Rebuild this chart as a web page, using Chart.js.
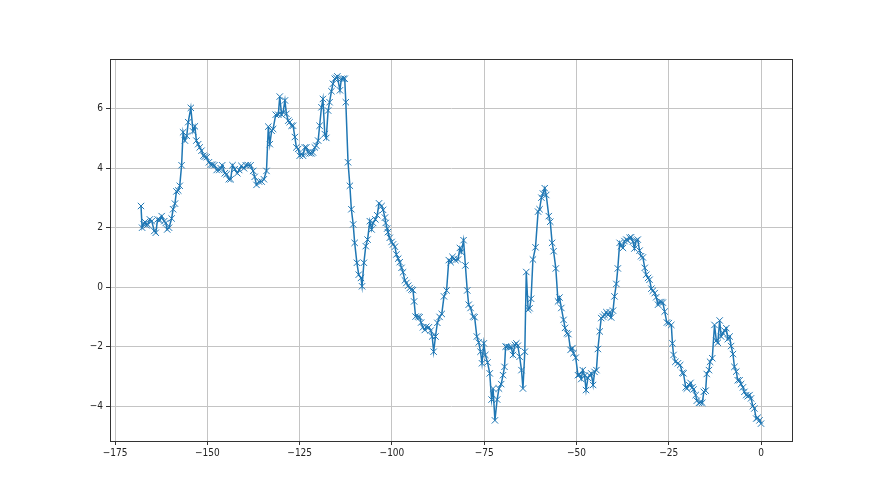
<!DOCTYPE html>
<html>
<head>
<meta charset="utf-8">
<script src="https://cdn.jsdelivr.net/npm/chart.js@4.4.1/dist/chart.umd.min.js"></script>
<style>
  html, body { margin: 0; padding: 0; background: #fff; }
  canvas { display: block; }
</style>
</head>
<body>
<canvas id="grafico" width="880" height="495"></canvas>
<script>
// x positions (days) and values
var days = [
  -168.0, -167.7, -167.3, -166.9, -166.5, -166.2, -165.6, -165.1, -164.4, -164.0,
  -163.5, -162.9, -162.4, -161.7, -161.3, -160.9, -160.4, -159.7, -159.3, -158.8,
  -158.4, -157.9, -157.5, -157.0, -156.6, -156.1, -155.6, -155.2, -154.5, -153.9,
  -153.4, -153.0, -152.5, -152.1, -151.6, -151.1, -150.7, -150.2, -149.6, -149.1,
  -148.6, -148.1, -147.5, -146.8, -146.4, -146.0, -145.3, -144.8, -144.2, -143.7,
  -143.2, -142.6, -141.9, -141.4, -140.8, -140.1, -139.6, -139.0, -138.3, -137.6,
  -137.2, -136.7, -136.0, -135.3, -134.7, -134.0, -133.5, -133.1, -132.6, -132.2,
  -131.5, -130.8, -130.4, -129.9, -129.5, -129.0, -128.6, -128.1, -127.7, -127.2,
  -126.8, -126.3, -125.9, -125.4, -125.0, -124.5, -124.1, -123.6, -123.2, -122.7,
  -122.3, -121.8, -121.4, -120.9, -120.5, -120.0, -119.6, -119.1, -118.7, -118.2,
  -117.8, -117.3, -116.9, -116.4, -116.0, -115.5, -115.1, -114.8, -114.1, -113.7,
  -113.2, -112.8, -112.5, -111.9, -111.4, -111.0, -110.5, -110.1, -109.5, -109.0,
  -108.4, -108.1, -107.6, -107.1, -106.6, -106.0, -105.5, -105.1, -104.5, -104.0,
  -103.5, -102.8, -102.4, -101.9, -101.7, -101.3, -101.1, -100.6, -100.1, -99.7,
  -99.2, -98.8, -98.3, -97.9, -97.4, -97.0, -96.5, -96.1, -95.6, -95.2,
  -94.7, -94.3, -94.0, -93.6, -92.9, -92.5, -92.1, -91.6, -91.1, -90.7,
  -90.0, -89.5, -89.1, -88.7, -88.2, -87.7, -87.1, -86.5, -85.9, -85.2,
  -84.6, -84.1, -83.6, -83.2, -82.8, -82.1, -81.6, -81.2, -80.6, -80.1,
  -79.6, -79.2, -78.7, -78.0, -77.6, -77.0, -76.5, -76.0, -75.6, -75.1,
  -74.7, -74.1, -73.5, -73.0, -72.6, -72.1, -71.5, -71.0, -70.4, -69.9,
  -69.5, -69.2, -68.8, -68.2, -67.7, -67.2, -66.7, -66.3, -65.9, -65.4,
  -64.9, -64.5, -64.0, -63.6, -63.1, -62.7, -62.3, -61.8, -61.1, -60.4,
  -60.0, -59.5, -59.1, -58.6, -58.2, -57.5, -57.1, -56.6, -56.2, -55.6,
  -55.0, -54.6, -54.1, -53.5, -53.1, -52.6, -52.2, -51.6, -51.1, -50.8,
  -50.2, -49.6, -49.2, -48.7, -48.3, -47.8, -47.4, -46.9, -46.4, -46.0,
  -45.5, -45.1, -44.6, -44.2, -43.7, -43.3, -42.8, -42.4, -41.9, -41.5,
  -41.0, -40.6, -40.1, -39.7, -39.2, -38.8, -38.3, -37.9, -37.4, -37.0,
  -36.5, -36.1, -35.6, -35.2, -34.7, -34.3, -33.8, -33.4, -32.9, -32.5,
  -32.0, -31.5, -31.1, -30.6, -30.2, -29.7, -29.3, -28.8, -28.4, -27.9,
  -27.5, -27.0, -26.6, -26.1, -25.5, -25.0, -24.3, -24.0, -23.7, -23.2,
  -22.5, -21.9, -21.3, -21.0, -20.4, -20.1, -19.5, -19.1, -18.6, -18.3,
  -17.7, -17.4, -16.8, -16.4, -15.9, -15.5, -15.0, -14.7, -14.1, -13.8,
  -13.2, -12.6, -12.1, -11.7, -11.2, -10.8, -10.3, -9.9, -9.4, -9.0,
  -8.5, -8.1, -7.6, -7.2, -6.7, -6.3, -5.8, -5.4, -4.9, -4.5,
  -4.0, -3.6, -3.1, -2.7, -2.2, -1.8, -1.3, -0.9, -0.4, 0.0
];

var values = [
  2.73, 2.00, 2.12, 2.19, 2.08, 2.11, 2.28, 2.22, 1.89, 1.83,
  2.28, 2.25, 2.39, 2.22, 2.16, 1.94, 2.00, 2.31, 2.62, 2.81,
  3.22, 3.25, 3.41, 4.10, 5.21, 4.93, 5.09, 5.55, 6.03, 5.24,
  5.41, 4.93, 4.81, 4.70, 4.59, 4.42, 4.39, 4.37, 4.20, 4.12,
  4.12, 4.10, 3.94, 3.94, 4.00, 4.10, 3.83, 3.80, 3.63, 3.63,
  4.10, 3.97, 3.83, 3.94, 4.08, 4.00, 4.10, 4.10, 4.10, 3.91,
  3.71, 3.44, 3.55, 3.55, 3.63, 3.91, 5.40, 4.81, 5.26, 5.32,
  5.80, 5.80, 6.41, 5.80, 5.88, 6.28, 5.83, 5.60, 5.55, 5.43,
  5.43, 5.05, 4.70, 4.65, 4.42, 4.48, 4.42, 4.70, 4.70, 4.53,
  4.50, 4.50, 4.53, 4.70, 4.76, 4.93, 5.43, 6.05, 6.33, 5.15,
  5.02, 5.94, 6.22, 6.59, 6.84, 7.01, 7.04, 7.09, 6.62, 7.01,
  7.01, 7.01, 6.22, 4.20, 3.41, 2.62, 2.11, 1.49, 0.82, 0.42,
  0.31, 0.03, 0.82, 1.38, 1.60, 2.22, 1.94, 2.16, 2.28, 2.42,
  2.82, 2.73, 2.60, 2.34, 2.16, 1.97, 1.85, 1.66, 1.52, 1.44,
  1.36, 1.10, 0.96, 0.84, 0.65, 0.50, 0.23, 0.14, 0.05, -0.03,
  -0.08, -0.10, -0.48, -0.99, -0.99, -1.01, -1.19, -1.35, -1.44, -1.33,
  -1.35, -1.46, -1.66, -2.17, -1.66, -1.20, -1.00, -0.90, -0.31, -0.11,
  0.91, 0.84, 1.02, 0.95, 0.91, 0.93, 1.32, 1.18, 1.58, 0.73,
  -0.11, -0.59, -0.70, -0.99, -1.01, -1.66, -1.86, -2.17, -2.56, -1.89,
  -2.28, -2.53, -2.90, -3.78, -3.41, -4.48, -3.78, -3.41, -3.26, -2.96,
  -2.68, -2.00, -2.00, -2.02, -2.02, -2.28, -1.94, -1.89, -1.97, -2.34,
  -2.79, -3.41, -2.17, 0.51, -0.76, -0.71, -0.39, 0.93, 1.34, 2.54,
  2.62, 3.01, 3.15, 3.33, 3.10, 2.39, 2.20, 1.49, 1.21, 0.63,
  -0.48, -0.35, -0.70, -1.10, -1.37, -1.55, -1.58, -2.11, -2.05, -2.22,
  -2.37, -2.96, -2.94, -3.09, -2.79, -2.98, -3.46, -3.05, -2.97, -2.90,
  -3.29, -2.85, -2.79, -2.08, -1.49, -1.04, -0.99, -0.93, -0.84, -0.93,
  -0.84, -1.02, -0.79, -0.31, 0.11, 0.63, 1.49, 1.38, 1.32, 1.55,
  1.60, 1.57, 1.66, 1.68, 1.53, 1.30, 1.57, 1.60, 1.23, 1.04,
  1.00, 0.65, 0.42, 0.31, 0.25, -0.05, -0.12, -0.20, -0.34, -0.59,
  -0.50, -0.50, -0.52, -0.82, -1.19, -1.21, -1.27, -1.89, -2.28, -2.51,
  -2.56, -2.62, -2.88, -2.90, -3.37, -3.41, -3.29, -3.22, -3.37, -3.44,
  -3.63, -3.82, -3.89, -3.87, -3.89, -3.52, -3.48, -2.92, -2.79, -2.51,
  -2.39, -1.27, -1.80, -1.87, -1.12, -1.66, -1.55, -1.46, -1.38, -1.75,
  -1.66, -1.98, -2.25, -2.68, -2.84, -3.13, -3.13, -3.26, -3.37, -3.52,
  -3.63, -3.67, -3.63, -3.74, -4.00, -4.08, -4.42, -4.39, -4.48, -4.59
];

var xTicks = [-175, -150, -125, -100, -75, -50, -25, 0];
var yTicks = [-4, -2, 0, 2, 4, 6];

// matplotlib style 5% margins
function margenes(arr) {
    var lo = Math.min.apply(null, arr), hi = Math.max.apply(null, arr);
    var m = (hi - lo) * 0.05;
    return [lo - m, hi + m];
}

function etiqueta(v) {
    return v < 0 ? '\u2212' + Math.abs(v) : String(v);
}

var fuente = { family: "'Liberation Sans Narrow', 'DejaVu Sans Condensed', 'DejaVu Sans', sans-serif", size: 10 };

// draws the top and right spines too
var marco = {
    id: 'marco',
    afterDraw: function(chart) {
        var a = chart.chartArea, c = chart.ctx;
        c.save();
        c.strokeStyle = '#333';
        c.lineWidth = 1;
        c.strokeRect(Math.round(a.left) + 0.5, Math.round(a.top) + 0.5,
                     Math.round(a.right - a.left), Math.round(a.bottom - a.top));
        c.restore();
    }
};

var xr = margenes(days), yr = margenes(values);
var puntos = days.map(function(d, i) { return { x: d, y: values[i] }; });

var chart = new Chart(document.getElementById('grafico'), {
    type: 'line',
    data: {
        datasets: [{
            data: puntos,
            borderColor: '#1f77b4',
            borderWidth: 1.5,
            pointStyle: 'crossRot',
            pointRadius: 4.5,
            pointBorderWidth: 1,
            pointBorderColor: '#1f77b4',
            pointBackgroundColor: '#1f77b4',
            tension: 0,
            fill: false
        }]
    },
    options: {
        responsive: false,
        animation: false,
        devicePixelRatio: 1,
        layout: { padding: { top: 59, right: 88, bottom: 0, left: 0 } },
        plugins: {
            legend: { display: false },
            tooltip: { enabled: false }
        },
        scales: {
            x: {
                type: 'linear',
                min: xr[0],
                max: xr[1],
                afterBuildTicks: function(s) { s.ticks = xTicks.map(function(v) { return { value: v }; }); },
                afterFit: function(s) { s.height = 54; },
                grid: { color: '#c4c4c4', lineWidth: 1, tickColor: '#333', tickLength: 4 },
                border: { color: '#333' },
                ticks: { color: '#222', font: fuente, padding: 2, maxRotation: 0, autoSkip: false, callback: etiqueta }
            },
            y: {
                type: 'linear',
                min: yr[0],
                max: yr[1],
                afterBuildTicks: function(s) { s.ticks = yTicks.map(function(v) { return { value: v }; }); },
                afterFit: function(s) { s.width = 110; },
                grid: { color: '#c4c4c4', lineWidth: 1, tickColor: '#333', tickLength: 4 },
                border: { color: '#333' },
                ticks: { color: '#222', font: fuente, padding: 3, autoSkip: false, callback: etiqueta }
            }
        }
    },
    plugins: [marco]
});
</script>
</body>
</html>
